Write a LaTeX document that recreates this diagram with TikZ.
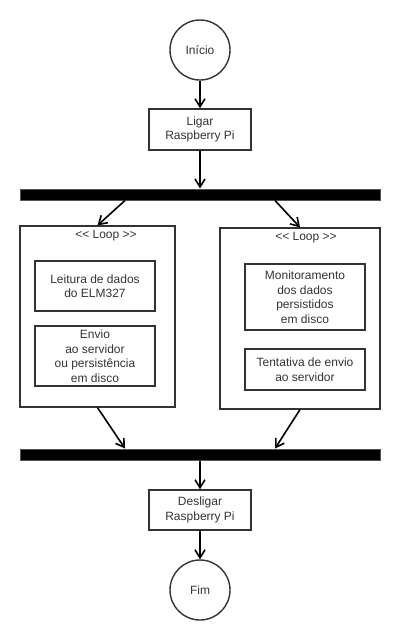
\documentclass[tikz,border=0pt]{standalone}
\usepackage{fontspec}
\setmainfont{Liberation Sans}
\usetikzlibrary{arrows.meta,calc}
\definecolor{linegray}{HTML}{333333}
\definecolor{bargray}{HTML}{555555}

\begin{document}
\begin{tikzpicture}[x=1pt,y=-1pt,font=\fontsize{12}{14.5}\selectfont]
  \tikzstyle{every node}=[text=linegray,align=center,inner sep=0pt]
  \tikzstyle{terminal}=[draw=linegray,circle,line width=1.4pt,minimum size=60pt]
  \tikzstyle{action}=[draw=linegray,line width=1.6pt,minimum width=102pt,minimum height=41pt]
  \tikzstyle{task}=[draw=linegray,line width=1.6pt,minimum width=120pt]
  \tikzstyle{loopbox}=[draw=linegray,line width=1.2pt,minimum height=181pt]
  \tikzstyle{sync}=[draw=bargray,fill=black,line width=1pt,minimum width=360pt,minimum height=11pt]
  \tikzstyle{flow}=[draw=black,line width=1.6pt,-{Straight Barb[length=8pt,width=10pt]}]
  \useasboundingbox (0,0) rectangle (400,640);

  \node[terminal] (inicio) at (200,50) {Início};
  \node[action] (ligar) at (200,129.5) {Ligar\\Raspberry Pi};
  \node[sync] (fork) at (200,194.5) {};

  % left loop
  \node[loopbox,minimum width=155pt] (loopA) at (97.5,316.5) {};
  \node (tagA) at (106,236) {<\kern0pt< Loop >\kern0pt>};
  \node[task,minimum height=50pt] (leitura) at (95,286) {Leitura de dados\\do ELM327};
  \node[task,minimum height=60pt] (envio) at (95,356) {Envio\\ao servidor\\ou persistência\\em disco};

  % right loop
  \node[loopbox,minimum width=160pt] (loopB) at (300,318.5) {};
  \node (tagB) at (306,238) {<\kern0pt< Loop >\kern0pt>};
  \node[task,minimum height=66pt] (monit) at (305,297) {Monitoramento\\dos dados\\persistidos\\em disco};
  \node[task,minimum height=41pt] (tentativa) at (305,369.5) {Tentativa de envio\\ao servidor};

  \node[sync] (join) at (200,454.5) {};
  \node[action,minimum height=40pt] (desligar) at (200,510) {Desligar\\Raspberry Pi};
  \node[terminal] (fim) at (200,590) {Fim};

  \draw[flow] (inicio) -- (ligar);
  \draw[flow] (ligar) -- (fork);
  \draw[flow] ($(fork.south)+(-75,0)$) -- (loopA.north);
  \draw[flow] ($(fork.south)+(75,0)$) -- (loopB.north);
  \draw[flow] (loopA.south) -- ($(join.north)+(-75,0)$);
  \draw[flow] (loopB.south) -- ($(join.north)+(75,0)$);
  \draw[flow] (join) -- (desligar);
  \draw[flow] (desligar) -- (fim);
\end{tikzpicture}
\end{document}
